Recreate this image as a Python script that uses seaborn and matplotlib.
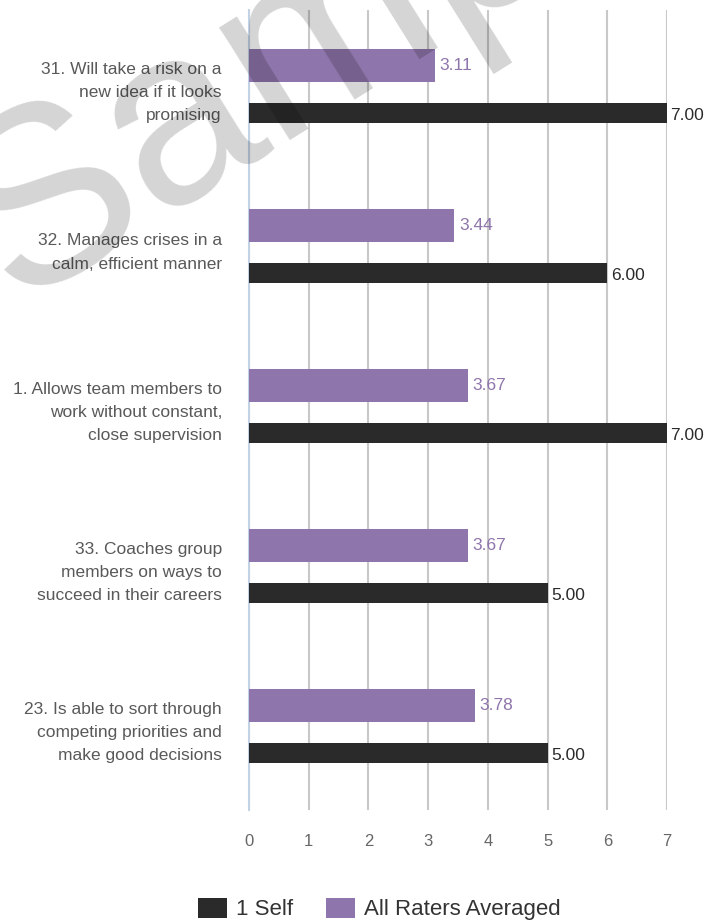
import matplotlib
matplotlib.use("Agg")
import matplotlib.pyplot as plt
import matplotlib.transforms as mtransforms
from matplotlib.patches import Patch
import seaborn as sns
import pandas as pd

# ---- data ----
categories = [
    "31. Will take a risk on a\nnew idea if it looks\npromising",
    "32. Manages crises in a\ncalm, efficient manner",
    "1. Allows team members to\nwork without constant,\nclose supervision",
    "33. Coaches group\nmembers on ways to\nsucceed in their careers",
    "23. Is able to sort through\ncompeting priorities and\nmake good decisions",
]
self_scores = [7.00, 6.00, 7.00, 5.00, 5.00]
raters_avg = [3.11, 3.44, 3.67, 3.67, 3.78]
series_names = ["1 Self", "All Raters Averaged"]
x_ticks = [0, 1, 2, 3, 4, 5, 6, 7]

PURPLE = "#8e75ab"
BLACK = "#2a2a2a"
SPINE = "#c3d2e4"
GRID = "#c8c8c8"

sns.set_style("white")
plt.rcParams["font.family"] = ["Liberation Sans", "DejaVu Sans"]

df = pd.DataFrame({"item": categories, "self": self_scores, "raters": raters_avg})

fig = plt.figure(figsize=(7.25, 9.24), dpi=100)
ax = fig.add_axes([249 / 725, 1 - 810 / 924, (667 - 249) / 725, 800 / 924])

# purple bars (All Raters Averaged)
n0 = len(ax.patches)
sns.barplot(data=df, x="raters", y="item", orient="h", color=PURPLE,
            width=0.207, saturation=1, linewidth=0, edgecolor="none", ax=ax, zorder=3)
purple_patches = ax.patches[n0:]
n1 = len(ax.patches)
sns.barplot(data=df, x="self", y="item", orient="h", color=BLACK,
            width=0.125, saturation=1, linewidth=0, edgecolor="none", ax=ax, zorder=3)
black_patches = ax.patches[n1:]

up = mtransforms.offset_copy(ax.transData, fig=fig, x=0, y=24.5, units="dots")
down = mtransforms.offset_copy(ax.transData, fig=fig, x=0, y=-22.5, units="dots")
for p in purple_patches:
    p.set_transform(up)
for p in black_patches:
    p.set_transform(down)

lab_up = mtransforms.offset_copy(ax.transData, fig=fig, x=4.5, y=24, units="dots")
lab_down = mtransforms.offset_copy(ax.transData, fig=fig, x=3.5, y=-25.5, units="dots")
for i, (v1, v2) in enumerate(zip(raters_avg, self_scores)):
    ax.text(v1, i, f"{v1:.2f}", transform=lab_up, ha="left", va="center",
            fontsize=12.5, color=PURPLE, clip_on=False)
    ax.text(v2, i, f"{v2:.2f}", transform=lab_down, ha="left", va="center",
            fontsize=12.5, color=BLACK, clip_on=False)

ax.set_xlim(0, 7)
ax.set_ylim(len(categories) - 0.5, -0.5)
ax.set_xlabel("")
ax.set_ylabel("")
ax.set_xticks(x_ticks)
ax.set_xticklabels([str(t) for t in x_ticks])
ax.tick_params(axis="x", length=0, pad=17, labelsize=12, labelcolor="#666666")
ax.tick_params(axis="y", which="major", length=0, pad=19.5, labelsize=12.5,
               labelcolor="#595959")
ax.set_yticks([i - 0.5 for i in range(len(categories) + 1)], minor=True)
ax.tick_params(axis="y", which="minor", length=12.5, width=1.5, color=SPINE)
shift = mtransforms.ScaledTranslation(0, 3 / 100, fig.dpi_scale_trans)
for lab in ax.get_yticklabels():
    lab.set_linespacing(1.68)
    lab.set_transform(lab.get_transform() + shift)

ax.xaxis.grid(True, color=GRID, linewidth=1.5)
ax.yaxis.grid(False)
ax.set_axisbelow(True)
for s in ["top", "right", "bottom"]:
    ax.spines[s].set_visible(False)
ax.spines["left"].set_color(SPINE)
ax.spines["left"].set_linewidth(1.5)

handles = [Patch(facecolor=BLACK, edgecolor="none"), Patch(facecolor=PURPLE, edgecolor="none")]
fig.legend(handles, series_names, loc="center", bbox_to_anchor=(379.5 / 725, 1 - 909 / 924),
           ncol=2, frameon=False, fontsize=16, handlelength=1.3, handleheight=1.0,
           handletextpad=0.4, columnspacing=1.5, borderpad=0, labelcolor="#333333")

# watermark
fig.text(15 / 725, 1 - 305 / 924, "Sample", fontsize=180, rotation=32, color="black",
         alpha=0.17, ha="left", va="baseline", rotation_mode="anchor", zorder=10)

fig.savefig("out.png", dpi=100)
